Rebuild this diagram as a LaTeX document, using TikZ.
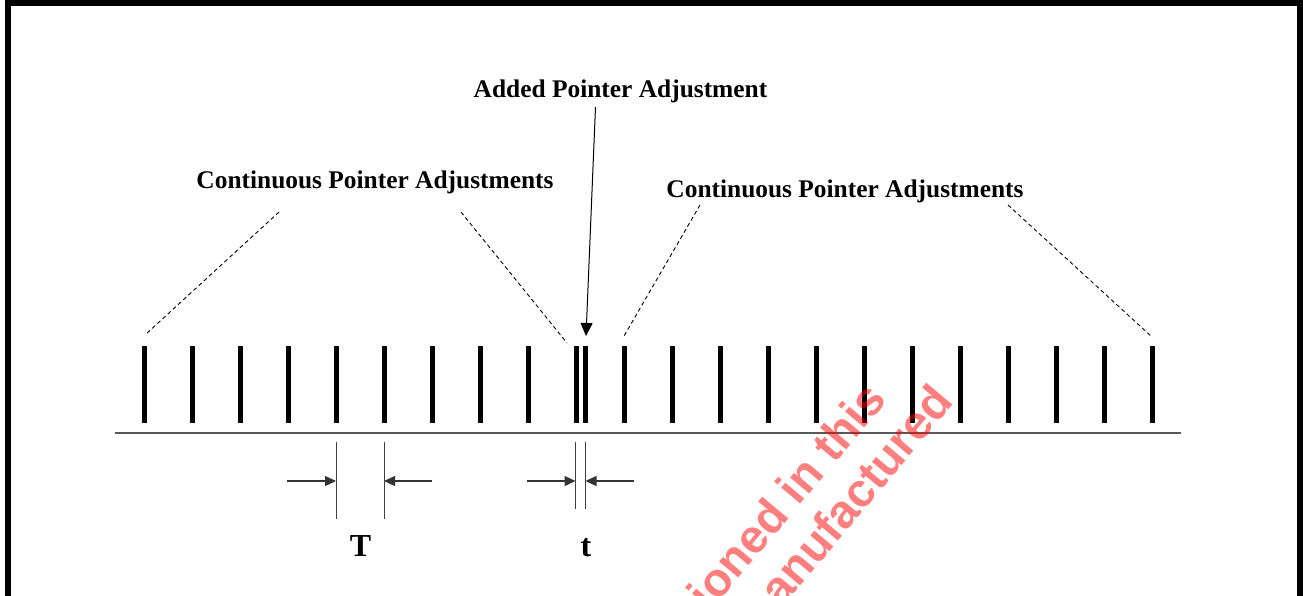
\documentclass[tikz,border=0pt]{standalone}
\usepackage{fontspec}
\setmainfont{Liberation Serif}
\newfontfamily\wmfont{Liberation Sans}
\usetikzlibrary{arrows.meta}
\begin{document}
\begin{tikzpicture}[x=1pt,y=-1pt,
  bar/.style={line width=5pt},
  lbl/.style={font=\fontsize{25.4}{30}\selectfont\bfseries, anchor=base, inner sep=0pt},
  dimlbl/.style={font=\fontsize{32}{38}\selectfont\bfseries, anchor=base, inner sep=0pt},
  dashline/.style={line width=0.9pt, dash pattern=on 4pt off 3pt},
  ext/.style={line width=1pt, draw=black!75},
  dimarrow/.style={line width=1.2pt, draw=black!80, -{Triangle[length=11pt,width=10pt]}},
  wm/.style={font=\fontsize{47}{52}\selectfont\wmfont\bfseries, text=red, text opacity=0.5, rotate=50, inner sep=0pt}
]
\useasboundingbox (0,0) rectangle (1303,596);
\begin{scope}
\clip (0,0) rectangle (1303,596);
% frame
\draw[line width=6pt] (8,620) -- (8,3) -- (1300,3) -- (1300,620);
% bars
\foreach \k in {0,...,21} {
  \coordinate (b\k) at ({144.5+48*\k},346);
  \draw[bar] (b\k) -- ++(0,77);
}
\coordinate (bx) at (585,346);
\draw[bar] (bx) -- ++(0,77);
% baseline
\coordinate (l0) at (115,433);
\coordinate (l1) at (1181,433);
\draw[line width=2pt, draw=black!65] (l0) -- (l1);
% labels
\node[lbl] (add) at (620.5,97.3) {Added Pointer Adjustment};
\node[lbl] (cl) at (375,188.3) {Continuous Pointer Adjustments};
\node[lbl] (cr) at (845,197) {Continuous Pointer Adjustments};
% added arrow
\coordinate (as) at (595.5,107);
\coordinate (ae) at (586,336);
\draw[line width=1pt, -{Triangle[length=13pt,width=12pt]}] (as) -- (ae);
% dashed lines
\coordinate (d1a) at (279,212); \coordinate (d1b) at (145,335);
\coordinate (d2a) at (461,212); \coordinate (d2b) at (567,343);
\coordinate (d3a) at (700,205); \coordinate (d3b) at (624,336);
\coordinate (d4a) at (1008,205); \coordinate (d4b) at (1152,337);
\draw[dashline] (d1a) -- (d1b);
\draw[dashline] (d2a) -- (d2b);
\draw[dashline] (d3a) -- (d3b);
\draw[dashline] (d4a) -- (d4b);
% T dimension
\coordinate (T1) at (336,442); \coordinate (T2) at (384,442);
\draw[ext] (T1) -- ++(0,77);
\draw[ext] (T2) -- ++(0,77);
\coordinate (Ta) at (287,481); \coordinate (Tb) at (432,481);
\draw[dimarrow] (Ta) -- (336,481);
\draw[dimarrow] (Tb) -- (384,481);
\node[dimlbl] (Tl) at (360.5,556) {T};
% t dimension
\coordinate (t1) at (575.5,442); \coordinate (t2) at (585.5,442);
\draw[ext] (t1) -- ++(0,67);
\draw[ext] (t2) -- ++(0,67);
\coordinate (ta) at (527,481); \coordinate (tb) at (634,481);
\draw[dimarrow] (ta) -- (575.5,481);
\draw[dimarrow] (tb) -- (585.5,481);
\node[dimlbl] (tl) at (586,556) {t};
% watermark
\node[wm, anchor=base east] (w1) at (888,400) {ioned in this};
\node[wm, anchor=base east] (w2) at (955,402) {anufactured};
\end{scope}
\end{tikzpicture}
\end{document}
